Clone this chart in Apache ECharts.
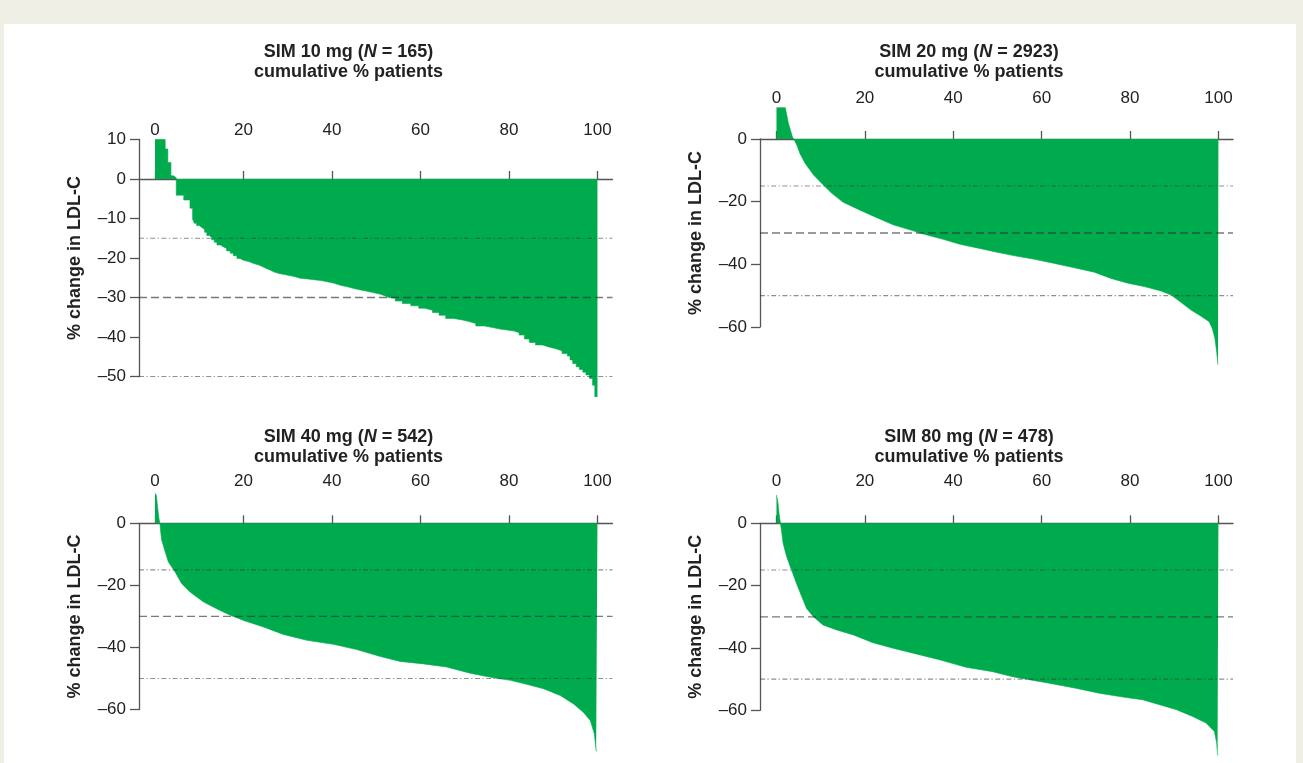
<!DOCTYPE html>
<html>
<head>
<meta charset="utf-8">
<script src="https://cdn.jsdelivr.net/npm/echarts@6/dist/echarts.min.js"></script>
<style>
  html, body { margin: 0; padding: 0; background: #efefe6; }
  #white { position: absolute; left: 4px; top: 24px; width: 1292px; height: 739px; background: #ffffff; }
  #chart { position: absolute; left: 0; top: 0; width: 1303px; height: 763px; }
</style>
</head>
<body>
<div id="white"></div>
<div id="chart"></div>
<script>
// ---------------- data ----------------
const xTicks = [0, 20, 40, 60, 80, 100];
const doseLabels = ['SIM 10 mg', 'SIM 20 mg', 'SIM 40 mg', 'SIM 80 mg'];
const patientN = [165, 2923, 542, 478];
const refLevels = [-15, -30, -50];
const yTitle = '% change in LDL-C';
const xTitle = 'cumulative % patients';

// [cumulative % patients, % change in LDL-C]
const sim10 = [
  [0, 10], [2.3, 7.6], [2.9, 4.2], [3.6, 0.8], [4.2, 0.3], [4.8, -4.1], [6.5, -5.3], [7.9, -7.4],
  [8.5, -10.2], [8.9, -11.2], [9.4, -11.8], [10.0, -12.3], [10.6, -12.8], [11.2, -13.5], [11.7, -14.3],
  [12.3, -14.8], [12.8, -15.4], [13.4, -16.0], [14.0, -16.7], [14.8, -17.2], [15.5, -17.6], [16.2, -18.2],
  [17.0, -18.8], [17.7, -19.4], [18.5, -20.1], [19.2, -20.6], [20.0, -20.9], [21.2, -21.4], [22.3, -21.8],
  [23.5, -22.3], [24.5, -22.7], [25.3, -23.1], [26.1, -23.5], [26.8, -23.9], [28.0, -24.3], [29.8, -24.7],
  [31.5, -25.1], [32.8, -25.3], [34.5, -25.5], [35.9, -25.7], [37.5, -26.0], [38.9, -26.4], [40.5, -26.9],
  [41.9, -27.3], [43.5, -27.7], [44.9, -28.1], [46.5, -28.4], [47.9, -28.8], [49.5, -29.2], [51.0, -29.6],
  [52.0, -30.0], [52.8, -30.2], [54.3, -30.9], [55.9, -31.5], [57.8, -32.1], [59.6, -32.7], [61.0, -33.2],
  [62.7, -33.8], [64.2, -34.5], [65.7, -35.3], [67.5, -35.7], [69.5, -36.1], [71.0, -36.6], [72.5, -37.2],
  [74.5, -37.6], [76.3, -38.0], [78.0, -38.3], [80.0, -38.5], [81.2, -38.9], [82.3, -39.5], [83.5, -40.5],
  [84.6, -41.4], [86.0, -42.0], [87.6, -42.5], [89.0, -43.0], [90.6, -43.5], [92.0, -44.2], [93.2, -44.8],
  [93.8, -45.8], [94.4, -46.7], [95.2, -47.5], [95.9, -48.2], [96.7, -48.9], [97.4, -49.6], [98.2, -50.5],
  [98.9, -52.2], [99.4, -55.1], [100, -55.1]
];
const sim20 = [
  [0, 10], [2.0, 10], [2.7, 5.0], [3.6, 0.7], [3.9, 0], [4.6, -1.9], [5.3, -4.6], [6.5, -7.8], [8.4, -11.5],
  [10.6, -14.7], [12.5, -17.3], [15.1, -20.2], [18.9, -22.7], [22.7, -25.1], [26.4, -27.4], [30.2, -29.0],
  [34.0, -30.6], [37.7, -32.0], [41.5, -33.6], [45.2, -34.7], [49.4, -36.0], [53.9, -37.3], [58.4, -38.4],
  [62.9, -39.7], [67.4, -41.1], [71.9, -42.5], [75.7, -44.5], [79.5, -46.0], [83.2, -47.1], [87.0, -48.5],
  [89.3, -49.8], [91.5, -52.1], [93.8, -54.6], [96.0, -56.5], [97.9, -58.3], [98.6, -60.4], [99.2, -63.6],
  [99.6, -67.9], [99.9, -72.0], [100, -72.0]
];
const sim40 = [
  [0, 9.7], [0.3, 9.0], [0.6, 5.0], [0.9, 1.5], [1.1, 0], [1.3, -3.0], [1.5, -5.4], [2.3, -9.2], [3.0, -12.4],
  [4.5, -15.6], [6.0, -19.4], [7.9, -22.1], [10.9, -25.3], [13.9, -27.5], [17.0, -29.6], [20.0, -31.3],
  [24.5, -33.4], [29.0, -35.8], [34.3, -37.7], [40.3, -39.0], [45.6, -40.7], [50.9, -42.9], [55.4, -44.5],
  [60.7, -45.3], [65.9, -46.3], [71.2, -48.3], [76.5, -49.8], [80.3, -50.6], [84.0, -51.9], [87.8, -53.3],
  [91.6, -55.5], [94.6, -58.2], [96.8, -60.9], [98.4, -63.6], [99.3, -67.9], [99.7, -73.3], [100, -73.3]
];
const sim80 = [
  [0, 9.1], [0.3, 7.0], [0.6, 3.0], [0.9, 0], [1.1, -2.1], [1.5, -6.4], [2.3, -10.7], [3.4, -15.0],
  [4.5, -19.2], [5.7, -23.5], [6.8, -27.3], [8.3, -29.9], [10.5, -32.6], [13.6, -34.2], [17.4, -35.8],
  [21.8, -38.3], [26.4, -40.1], [31.6, -41.9], [36.9, -43.8], [42.9, -46.2], [48.9, -47.6], [53.4, -49.2],
  [56.5, -50.0], [61.7, -51.3], [67.7, -52.9], [73.0, -54.5], [79.1, -55.9], [82.8, -56.6], [86.7, -58.2],
  [90.5, -59.8], [94.2, -62.0], [97.2, -64.1], [99.1, -66.8], [99.6, -70.5], [99.8, -74.3], [100, -74.3]
];
const seriesData = [sim10, sim20, sim40, sim80];

// ---------------- layout / style ----------------
const FONT = '"Liberation Sans", Arial, Helvetica, sans-serif';
const GREEN = '#00ab4e';
const AXIS = '#555555';
const TXT = '#222222';

const panels = [
  { grid: { left: 139, top: 139.5, width: 473.5, height: 237 }, xMin: -3.62, xMax: 103.4,
    yMin: -50, yMax: 10, yInt: 10, labelOffset: 0, titleX: 348.5, titleY: 42, step: 'end' },
  { grid: { left: 760, top: 139, width: 473, height: 188 }, xMin: -3.73, xMax: 103.3,
    yMin: -60, yMax: 0, yInt: 20, labelOffset: 31.5, titleX: 969, titleY: 42, step: false },
  { grid: { left: 139, top: 523.3, width: 473.5, height: 186.2 }, xMin: -3.62, xMax: 103.4,
    yMin: -60, yMax: 0, yInt: 20, labelOffset: 32, titleX: 348.5, titleY: 427, step: false },
  { grid: { left: 760, top: 523.3, width: 473, height: 187 }, xMin: -3.73, xMax: 103.3,
    yMin: -60, yMax: 0, yInt: 20, labelOffset: 32, titleX: 969, titleY: 427, step: false }
];

const grids = [], xAxes = [], yAxes = [], series = [], graphics = [];

panels.forEach((p, i) => {
  grids.push(Object.assign({ containLabel: false }, p.grid));
  // label axis at top
  xAxes.push({
    type: 'value', gridIndex: i, position: 'top', min: p.xMin, max: p.xMax, offset: p.labelOffset,
    axisLine: { show: false, onZero: false },
    axisTick: { show: false },
    splitLine: { show: false },
    axisLabel: { customValues: xTicks, fontSize: 17, color: TXT, fontFamily: FONT, margin: 1 }
  });
  // zero line with upward ticks
  xAxes.push({
    type: 'value', gridIndex: i, position: 'bottom', min: p.xMin, max: p.xMax,
    axisLine: { show: true, onZero: true, lineStyle: { color: AXIS, width: 1.3 } },
    axisTick: { show: true, inside: true, length: 8, customValues: xTicks, lineStyle: { color: AXIS, width: 1.3 } },
    axisLabel: { show: false },
    splitLine: { show: false }
  });
  yAxes.push({
    type: 'value', gridIndex: i, min: p.yMin, max: p.yMax, interval: p.yInt,
    name: yTitle, nameLocation: 'middle', nameRotate: 90, nameGap: 55,
    nameTextStyle: { fontSize: 18, fontWeight: 'bold', color: TXT, fontFamily: FONT },
    axisLine: { show: true, onZero: false, lineStyle: { color: AXIS, width: 1.3 } },
    axisTick: { show: true, length: 9, lineStyle: { color: AXIS, width: 1.3 } },
    splitLine: { show: false },
    axisLabel: {
      fontSize: 17, color: TXT, fontFamily: FONT, margin: 13,
      formatter: v => (v < 0 ? '\u2013' + Math.abs(v) : String(v))
    }
  });
  series.push({
    type: 'line', xAxisIndex: 2 * i + 1, yAxisIndex: i,
    data: seriesData[i], step: p.step, symbol: 'none', showSymbol: false, clip: false,
    lineStyle: { width: 0.6, color: GREEN },
    areaStyle: { color: GREEN, opacity: 1, origin: 0 },
    z: 2, silent: true
  });
  // reference lines drawn above the green area, spanning the full axis extent
  refLevels.forEach(v => {
    series.push({
      type: 'line', xAxisIndex: 2 * i + 1, yAxisIndex: i,
      data: [[p.xMin, v], [p.xMax, v]], symbol: 'none', showSymbol: false, silent: true, z: 10,
      lineStyle: v === -30
        ? { color: '#333333', width: 1.3, type: [8, 4], opacity: 0.65 }
        : { color: '#333333', width: 1.1, type: [5, 2.5, 1.2, 2.5], opacity: 0.55 }
    });
  });
  graphics.push({
    type: 'text', x: p.titleX, y: p.titleY, z: 10,
    style: {
      text: '{b|' + doseLabels[i] + ' (}{i|N}{b| = ' + patientN[i] + ')}\n{b|' + xTitle + '}',
      align: 'center', verticalAlign: 'top',
      fill: TXT,
      rich: {
        b: { fontSize: 18, fontWeight: 'bold', fontFamily: FONT, lineHeight: 20, fill: TXT },
        i: { fontSize: 18, fontWeight: 'bold', fontStyle: 'italic', fontFamily: FONT, lineHeight: 20, fill: TXT }
      }
    }
  });
});

const chart = echarts.init(document.getElementById('chart'), null, { renderer: 'canvas' });
chart.setOption({
  backgroundColor: 'transparent',
  animation: false,
  grid: grids,
  xAxis: xAxes,
  yAxis: yAxes,
  series: series,
  graphic: graphics
});
</script>
</body>
</html>
